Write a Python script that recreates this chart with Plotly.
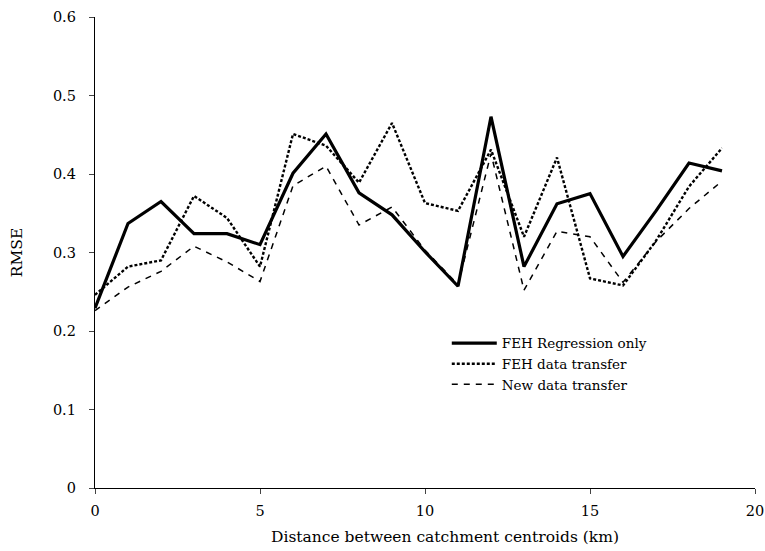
import plotly.graph_objects as go

distance_km = list(range(20))
feh_regression_only = [0.229, 0.337, 0.365, 0.324, 0.324, 0.310, 0.401, 0.451, 0.376, 0.348,
                       0.301, 0.257, 0.473, 0.282, 0.362, 0.375, 0.295, 0.353, 0.414, 0.404]
feh_data_transfer = [0.246, 0.282, 0.290, 0.372, 0.344, 0.282, 0.451, 0.436, 0.389, 0.465,
                     0.363, 0.353, 0.431, 0.320, 0.421, 0.267, 0.258, 0.315, 0.384, 0.433]
new_data_transfer = [0.226, 0.256, 0.276, 0.308, 0.288, 0.263, 0.385, 0.410, 0.335, 0.358,
                     0.303, 0.259, 0.426, 0.252, 0.327, 0.320, 0.262, 0.314, 0.356, 0.391]

x_ticks = [0, 5, 10, 15, 20]
y_ticks = [0, 0.1, 0.2, 0.3, 0.4, 0.5, 0.6]
x_title = "Distance between catchment centroids (km)"
y_title = "RMSE"

fig = go.Figure()
fig.add_trace(go.Scatter(x=distance_km, y=feh_regression_only, mode="lines",
                         name="FEH Regression only",
                         line=dict(color="black", width=3.2)))
fig.add_trace(go.Scatter(x=distance_km, y=feh_data_transfer, mode="lines",
                         name="FEH data transfer",
                         line=dict(color="black", width=2.4, dash="3px,2px")))
fig.add_trace(go.Scatter(x=distance_km, y=new_data_transfer, mode="lines",
                         name="New data transfer",
                         line=dict(color="black", width=1.5, dash="6px,6px")))

ff = "DejaVu Serif"
fig.update_layout(
    width=765, height=551,
    margin=dict(l=95, r=10, t=17, b=63, autoexpand=False),
    paper_bgcolor="white", plot_bgcolor="white",
    font=dict(family=ff, size=14.5, color="black"),
    showlegend=True,
    legend=dict(x=0.533, y=0.34, xanchor="left", yanchor="top",
                bgcolor="rgba(0,0,0,0)", font=dict(size=13.5, family=ff),
                tracegroupgap=0, itemwidth=45),
    xaxis=dict(range=[0, 20], tickvals=x_ticks, ticks="outside", ticklen=5,
               showline=True, linecolor="black", linewidth=1.3, showgrid=False,
               zeroline=False, tickfont=dict(size=14.5, family=ff),
               automargin=False, ticklabeloverflow="allow", ticklabelstandoff=4),
    yaxis=dict(range=[0, 0.6], tickvals=y_ticks, ticks="outside", ticklen=5,
               showline=True, linecolor="black", linewidth=1.3, showgrid=False,
               zeroline=False, tickfont=dict(size=14.5, family=ff),
               automargin=False, ticklabelstandoff=10,
               title=dict(text=y_title, font=dict(size=15.5, family=ff), standoff=26)),
    annotations=[dict(text=x_title, xref="paper", yref="paper", x=0.53, y=-0.104,
                      xanchor="center", yanchor="middle", showarrow=False,
                      font=dict(size=15.5, family=ff, color="black"))],
)

fig.write_html("out.html", config={"displayModeBar": False},
               post_script="document.body.style.margin='0';document.body.style.overflow='hidden';")
